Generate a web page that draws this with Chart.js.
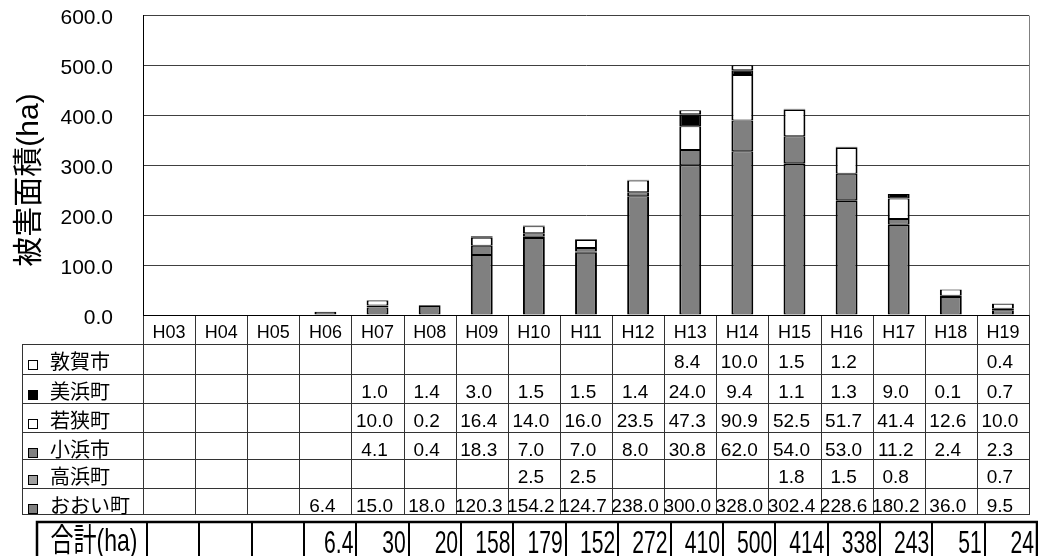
<!DOCTYPE html>
<html>
<head>
<meta charset="utf-8">
<script src="https://cdn.jsdelivr.net/npm/chart.js@4/dist/chart.umd.min.js"></script>
<style>
  html, body { margin: 0; padding: 0; background: #fff; }
  #wrap { width: 1038px; height: 556px; }
</style>
</head>
<body>
<div id="wrap"><canvas id="c" width="1038" height="556"></canvas></div>
<script>
// Fiscal years (Heisei)
const categories = ['H03','H04','H05','H06','H07','H08','H09','H10','H11','H12','H13','H14','H15','H16','H17','H18','H19'];

// Damaged area by municipality (ha); null = no record
const ooi      = [null, null, null, 6.4, 15.0, 18.0, 120.3, 154.2, 124.7, 238.0, 300.0, 328.0, 302.4, 228.6, 180.2, 36.0, 9.5];
const takahama = [null, null, null, null, null, null, null, 2.5, 2.5, null, null, null, 1.8, 1.5, 0.8, null, 0.7];
const obama    = [null, null, null, null, 4.1, 0.4, 18.3, 7.0, 7.0, 8.0, 30.8, 62.0, 54.0, 53.0, 11.2, 2.4, 2.3];
const wakasa   = [null, null, null, null, 10.0, 0.2, 16.4, 14.0, 16.0, 23.5, 47.3, 90.9, 52.5, 51.7, 41.4, 12.6, 10.0];
const mihama   = [null, null, null, null, 1.0, 1.4, 3.0, 1.5, 1.5, 1.4, 24.0, 9.4, 1.1, 1.3, 9.0, 0.1, 0.7];
const tsuruga  = [null, null, null, null, null, null, null, null, null, null, 8.4, 10.0, 1.5, 1.2, null, null, 0.4];

// Yearly totals (ha) as printed in the summary row
const totals   = [null, null, null, 6.4, 30, 20, 158, 179, 152, 272, 410, 500, 414, 338, 243, 51, 24];

// Value axis ticks
const yTickValues = [0, 100, 200, 300, 400, 500, 600];

const LAT = '"Liberation Sans", Arial, "Noto Sans CJK JP", sans-serif';
const JP  = '"Noto Sans CJK JP", "Liberation Sans", sans-serif';

// Stack order: bottom to top
const series = [
  { label: 'おおい町', data: ooi,      color: '#808080' },
  { label: '高浜町',   data: takahama, color: '#a0a0a0' },
  { label: '小浜市',   data: obama,    color: '#808080' },
  { label: '若狭町',   data: wakasa,   color: '#ffffff' },
  { label: '美浜町',   data: mihama,   color: '#000000' },
  { label: '敦賀市',   data: tsuruga,  color: '#ffffff' }
];

// Data table under the plot: header row, one row per municipality (top of stack first)
const tableRowTops = [344, 374, 403, 432, 459, 488];
const tableBottom = 514;
const legendLeft = 22;

const tablePlugin = {
  id: 'dataTable',
  afterDraw(chart) {
    const { ctx, chartArea: ca, scales: { x } } = chart;
    const n = categories.length;
    const cw = x.getPixelForValue(1) - x.getPixelForValue(0);
    const edge = i => x.getPixelForValue(i) - cw / 2;
    const crisp = v => Math.round(v) + 0.5;
    const rows = series.slice().reverse();

    ctx.save();

    // plot frame: right edge and category axis
    ctx.strokeStyle = '#808080';
    ctx.lineWidth = 1;
    ctx.beginPath();
    ctx.moveTo(crisp(ca.right), ca.top);
    ctx.lineTo(crisp(ca.right), ca.bottom);
    ctx.stroke();

    // table grid
    ctx.strokeStyle = '#333';
    ctx.beginPath();
    for (let i = 0; i <= n; i++) {
      const xx = crisp(edge(i));
      ctx.moveTo(xx, ca.bottom);
      ctx.lineTo(xx, tableBottom);
    }
    [...tableRowTops, tableBottom].forEach(y => {
      ctx.moveTo(legendLeft, crisp(y));
      ctx.lineTo(edge(n) + 1, crisp(y));
    });
    ctx.moveTo(crisp(legendLeft), tableRowTops[0]);
    ctx.lineTo(crisp(legendLeft), tableBottom);
    ctx.stroke();

    ctx.strokeStyle = '#000';
    ctx.beginPath();
    ctx.moveTo(ca.left, crisp(ca.bottom));
    ctx.lineTo(ca.right, crisp(ca.bottom));
    ctx.stroke();

    // header row: fiscal years
    ctx.fillStyle = '#000';
    ctx.textAlign = 'center';
    ctx.textBaseline = 'alphabetic';
    ctx.font = '18px ' + LAT;
    categories.forEach((c, i) => {
      ctx.fillText(c, x.getPixelForValue(i), 338);
    });

    // municipality rows
    rows.forEach((s, r) => {
      const top = tableRowTops[r];
      // legend key
      ctx.fillStyle = s.color;
      ctx.fillRect(28, top + 16, 10, 10);
      ctx.strokeStyle = '#000';
      ctx.lineWidth = 1;
      ctx.strokeRect(28.5, top + 16.5, 9, 9);
      ctx.fillStyle = '#000';
      ctx.textAlign = 'left';
      ctx.font = '20px ' + JP;
      ctx.fillText(s.label, 50, top + 25);
      // values
      ctx.textAlign = 'center';
      ctx.font = '19px ' + LAT;
      s.data.forEach((v, i) => {
        if (v === null) return;
        ctx.fillText(v.toFixed(1), x.getPixelForValue(i) - 3, top + 24);
      });
    });

    // totals row
    const tL = edge(0) + 4;
    const tR = edge(n) + 8;
    const tw = (tR - tL) / n;
    const boxLeft = 37, boxTop = 522;
    ctx.strokeStyle = '#000';
    ctx.lineWidth = 2.5;
    ctx.beginPath();
    ctx.moveTo(boxLeft, 560);
    ctx.lineTo(boxLeft, boxTop);
    ctx.lineTo(tR, boxTop);
    ctx.lineTo(tR, 560);
    ctx.stroke();
    ctx.lineWidth = 2;
    ctx.beginPath();
    for (let i = 0; i < n; i++) {
      const xx = Math.round(tL + i * tw);
      ctx.moveTo(xx, boxTop);
      ctx.lineTo(xx, 560);
    }
    ctx.stroke();

    ctx.fillStyle = '#000';
    ctx.save();
    ctx.translate((boxLeft + tL) / 2 + 2, 551);
    ctx.scale(0.72, 1);
    ctx.textAlign = 'center';
    ctx.font = '32px ' + LAT;
    ctx.fillText('合計(ha)', 0, 0);
    ctx.restore();

    totals.forEach((v, i) => {
      if (v === null) return;
      ctx.save();
      ctx.translate(tL + (i + 1) * tw - 3, 553);
      ctx.scale(0.66, 1);
      ctx.textAlign = 'right';
      ctx.font = '32px ' + LAT;
      ctx.fillText(String(v), 0, 0);
      ctx.restore();
    });

    // value axis title
    ctx.save();
    ctx.translate(30, 180);
    ctx.rotate(-Math.PI / 2);
    ctx.textAlign = 'center';
    ctx.textBaseline = 'middle';
    ctx.font = '30px ' + LAT;
    ctx.fillText('被害面積(ha)', 0, 0);
    ctx.restore();

    ctx.restore();
  }
};

new Chart(document.getElementById('c'), {
  type: 'bar',
  data: {
    labels: categories,
    datasets: series.map(s => ({
      label: s.label,
      data: s.data,
      backgroundColor: s.color,
      borderColor: '#000',
      borderWidth: { top: 1, bottom: 1, left: 2, right: 2 },
      borderSkipped: false,
      barPercentage: 0.42,
      categoryPercentage: 1
    }))
  },
  options: {
    responsive: false,
    animation: false,
    devicePixelRatio: 1,
    layout: { padding: { left: 0, right: 9, top: 15, bottom: 241 } },
    plugins: { legend: { display: false }, tooltip: { enabled: false } },
    scales: {
      x: { stacked: true, display: false },
      y: {
        stacked: true,
        min: 0,
        max: 600,
        afterBuildTicks: s => { s.ticks = yTickValues.map(v => ({ value: v })); },
        afterFit: s => { s.width = 143; },
        ticks: {
          color: '#000',
          padding: 3,
          labelOffset: 3,
          font: { size: 21, family: LAT },
          callback: v => Number(v).toFixed(1)
        },
        grid: { color: '#404040', drawTicks: true, tickLength: 27, tickColor: 'rgba(0,0,0,0)' },
        border: { color: '#000', width: 1 }
      }
    }
  },
  plugins: [tablePlugin]
});
</script>
</body>
</html>
